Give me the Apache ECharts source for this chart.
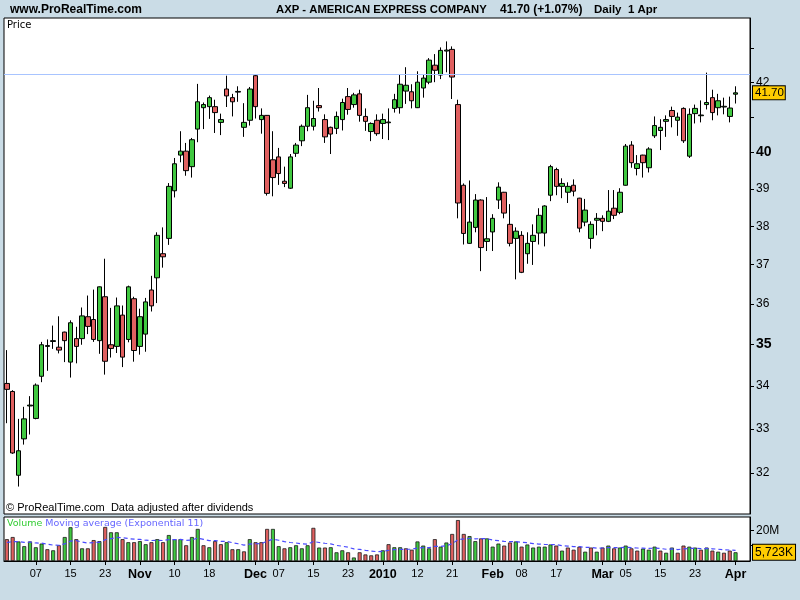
<!DOCTYPE html>
<html><head><meta charset="utf-8">
<script src="https://cdn.jsdelivr.net/npm/echarts@6/dist/echarts.min.js"></script>
<style>html,body{margin:0;padding:0;background:#cadce6;}#c{width:800px;height:600px;}</style>
</head><body><div id="c"></div>
<script>
const dates = ['2009-09-30','2009-10-01','2009-10-02','2009-10-05','2009-10-06','2009-10-07','2009-10-08','2009-10-09','2009-10-12','2009-10-13','2009-10-14','2009-10-15','2009-10-16','2009-10-19','2009-10-20','2009-10-21','2009-10-22','2009-10-23','2009-10-26','2009-10-27','2009-10-28','2009-10-29','2009-10-30','2009-11-02','2009-11-03','2009-11-04','2009-11-05','2009-11-06','2009-11-09','2009-11-10','2009-11-11','2009-11-12','2009-11-13','2009-11-16','2009-11-17','2009-11-18','2009-11-19','2009-11-20','2009-11-23','2009-11-24','2009-11-25','2009-11-27','2009-11-30','2009-12-01','2009-12-02','2009-12-03','2009-12-04','2009-12-07','2009-12-08','2009-12-09','2009-12-10','2009-12-11','2009-12-14','2009-12-15','2009-12-16','2009-12-17','2009-12-18','2009-12-21','2009-12-22','2009-12-23','2009-12-24','2009-12-28','2009-12-29','2009-12-30','2009-12-31','2010-01-04','2010-01-05','2010-01-06','2010-01-07','2010-01-08','2010-01-11','2010-01-12','2010-01-13','2010-01-14','2010-01-15','2010-01-19','2010-01-20','2010-01-21','2010-01-22','2010-01-25','2010-01-26','2010-01-27','2010-01-28','2010-01-29','2010-02-01','2010-02-02','2010-02-03','2010-02-04','2010-02-05','2010-02-08','2010-02-09','2010-02-10','2010-02-11','2010-02-12','2010-02-16','2010-02-17','2010-02-18','2010-02-19','2010-02-22','2010-02-23','2010-02-24','2010-02-25','2010-02-26','2010-03-01','2010-03-02','2010-03-03','2010-03-04','2010-03-05','2010-03-08','2010-03-09','2010-03-10','2010-03-11','2010-03-12','2010-03-15','2010-03-16','2010-03-17','2010-03-18','2010-03-19','2010-03-22','2010-03-23','2010-03-24','2010-03-25','2010-03-26','2010-03-29','2010-03-30','2010-03-31','2010-04-01'];

const opens = [34.06,33.87,31.95,32.77,33.53,33.24,34.23,34.95,35.07,34.93,
35.30,34.57,35.14,35.14,35.68,35.61,35.09,36.18,34.99,34.95,
35.72,35.12,36.13,34.95,35.25,36.35,36.66,37.28,37.68,38.95,
39.93,40.04,39.61,40.66,41.27,41.30,41.30,40.85,41.81,41.56,
41.72,40.71,40.91,42.20,40.93,41.05,39.80,39.88,39.21,39.02,
39.98,40.33,40.74,40.74,41.33,40.93,40.71,40.68,40.93,41.59,
41.36,41.67,41.02,40.59,40.91,40.82,40.84,41.25,41.27,41.75,
41.73,41.27,41.84,42.01,42.51,42.22,42.93,42.98,41.36,39.10,
37.55,37.97,38.70,37.60,37.85,38.70,38.91,38.05,37.68,37.76,
37.28,37.60,37.82,37.82,38.83,39.53,39.07,38.91,39.10,38.75,
38.11,37.68,38.16,38.21,38.13,38.48,38.37,39.10,40.21,39.56,
39.93,39.58,40.47,40.62,40.88,41.19,40.91,41.25,39.90,41.10,
41.04,41.36,41.56,41.27,41.29,41.02,41.66];
const highs = [34.86,33.90,33.23,33.51,33.76,34.06,35.06,35.12,35.46,35.69,
35.31,35.59,35.43,35.91,36.21,36.36,36.44,37.15,35.90,36.16,
35.96,36.46,36.18,35.88,36.15,36.71,37.84,37.97,39.16,39.85,
40.60,40.27,40.41,41.96,41.42,41.62,41.50,41.10,42.20,41.67,
41.89,41.40,41.87,42.22,41.25,41.06,40.60,40.13,39.61,39.96,
40.27,40.79,41.64,41.47,41.84,41.08,40.73,41.16,41.53,41.84,
41.70,41.79,41.25,40.85,41.08,41.10,41.25,41.67,42.25,42.45,
41.95,42.33,42.22,42.72,42.84,43.04,43.22,43.07,41.50,39.15,
39.23,38.86,38.72,38.78,38.32,39.18,38.92,38.59,37.97,37.87,
37.84,38.05,38.48,38.56,39.66,39.58,39.29,39.18,39.26,38.76,
38.73,38.13,38.35,38.29,38.97,38.97,39.02,40.24,40.32,39.93,
39.94,40.15,41.02,40.94,41.05,41.30,41.13,41.28,41.25,41.36,
41.48,42.29,41.79,41.67,41.56,41.59,41.89];
const lows = [33.13,32.43,31.70,32.64,32.87,33.22,34.09,34.36,34.89,34.78,
34.57,34.20,34.54,34.99,35.25,35.06,34.77,34.27,34.68,34.79,
34.45,35.05,34.58,34.75,34.82,35.81,36.02,36.92,37.51,38.77,
39.73,39.36,39.31,40.29,40.66,40.95,40.55,40.49,41.29,41.02,
41.44,40.44,40.76,40.96,40.53,38.82,38.80,39.11,39.05,39.00,
39.88,40.18,40.60,40.62,41.16,40.27,39.96,40.52,40.62,41.07,
41.27,40.87,40.61,40.32,40.47,40.38,40.35,41.13,41.10,41.38,
41.25,41.26,41.56,41.95,42.01,42.10,42.30,41.52,38.21,37.52,
37.54,37.84,36.83,37.35,37.35,38.46,38.21,37.47,36.62,36.78,
37.02,36.99,37.52,37.47,38.67,38.83,38.75,38.62,38.80,37.84,
38.00,37.41,37.76,37.87,38.11,38.19,38.32,39.09,39.58,39.37,
39.31,39.45,40.41,40.07,40.44,40.71,40.47,40.27,39.85,40.82,
40.85,41.22,40.91,41.05,41.08,40.85,41.39];
const closes = [33.92,32.45,32.50,33.23,33.55,34.02,34.99,34.97,35.09,34.86,
35.09,35.53,34.95,35.70,35.44,35.12,36.43,34.59,34.90,35.95,
34.69,36.43,34.85,35.68,36.05,35.95,37.76,37.20,39.07,39.69,
40.04,39.50,40.36,41.44,41.36,41.56,41.13,40.93,41.61,41.44,
41.74,40.85,41.81,41.30,41.05,38.88,39.31,39.42,39.15,39.88,
40.21,40.74,41.27,40.96,41.27,40.44,40.52,41.02,41.42,41.22,
41.64,41.05,40.88,40.82,40.53,40.93,40.86,41.50,41.95,41.92,
41.47,42.01,42.13,42.66,42.36,42.95,42.96,42.16,38.62,37.81,
38.11,38.70,37.44,37.67,38.21,39.05,38.35,37.55,37.87,36.80,
37.55,37.76,38.29,38.54,39.61,39.07,39.15,39.07,38.94,37.95,
38.43,38.05,38.21,38.13,38.40,38.29,38.91,40.18,39.72,39.69,
39.72,40.10,40.76,40.71,40.93,41.02,41.00,40.33,41.08,41.25,
41.06,41.42,41.13,41.47,41.31,41.26,41.70];
// volume in millions of shares
const volumes = [14.3,15.7,12.8,9.7,12.8,9.0,11.4,7.7,7.0,10.3,
15.7,22.1,14.3,8.3,8.3,13.7,13.0,22.3,18.8,18.8,
14.3,12.3,12.3,13.0,11.0,12.3,14.3,12.3,17.0,14.3,
14.3,10.3,15.7,21.0,10.3,9.0,13.0,11.0,12.3,7.7,
7.7,6.3,14.3,12.3,12.3,21.0,21.0,9.7,8.3,9.0,
10.3,8.3,10.3,21.7,8.8,8.8,9.0,5.7,7.0,5.7,
2.3,5.7,4.3,3.7,4.3,7.0,11.0,9.0,9.0,8.3,
7.4,12.8,10.1,8.3,14.3,9.4,12.1,17.7,26.8,17.7,
16.3,13.0,14.8,14.8,9.4,11.4,10.1,12.1,12.8,9.4,
10.8,8.8,9.4,9.4,10.8,10.1,6.8,8.8,7.4,9.4,
6.1,8.8,6.1,8.8,10.1,8.3,8.8,10.1,8.3,6.8,
8.1,7.4,9.4,6.8,5.4,8.8,5.4,10.1,9.4,8.8,
7.4,8.8,6.8,6.1,5.4,6.8,5.723];
// volume moving average (exponential 11), millions
const volumeAverage = [12.1,12.7,12.7,12.2,12.3,11.8,11.7,11.0,10.4,10.3,
11.2,13.0,13.3,12.4,11.7,12.1,12.2,13.9,14.7,15.4,
15.2,14.7,14.3,14.1,13.6,13.4,13.6,13.4,14.0,14.0,
14.1,13.5,13.8,15.0,14.2,13.3,13.3,12.9,12.8,12.0,
11.3,10.4,11.1,11.3,11.4,13.0,14.3,13.6,12.7,12.1,
11.8,11.2,11.0,12.8,12.1,11.6,11.2,10.2,9.7,9.0,
7.9,7.6,7.0,6.5,6.1,6.3,7.0,7.4,7.6,7.7,
7.7,8.5,8.8,8.7,9.6,9.6,10.0,11.3,13.9,14.5,
14.8,14.5,14.6,14.6,13.7,13.3,12.8,12.7,12.7,12.2,
12.0,11.4,11.1,10.8,10.8,10.7,10.0,9.8,9.4,9.4,
8.9,8.9,8.4,8.5,8.8,8.7,8.7,8.9,8.8,8.5,
8.4,8.2,8.4,8.2,7.7,7.9,7.5,7.9,8.2,8.3,
8.1,8.2,8.0,7.7,7.3,7.2,7.0];

const priceTicks = [32,33,34,35,36,37,38,39,40,41,42,43];
const priceLabels = [32,33,34,35,36,37,38,39,40,42];
const boldPriceLabels = [35,40];
const volumeTicks = [10,20];
const volumeLabels = [20];
const tickDates = ['2009-10-07','2009-10-15','2009-10-23','2009-11-02','2009-11-10','2009-11-18','2009-12-01','2009-12-07','2009-12-15','2009-12-23','2010-01-04','2010-01-12','2010-01-21','2010-02-01','2010-02-08','2010-02-17','2010-03-01','2010-03-05','2010-03-15','2010-03-23','2010-04-01'];
const tickTexts = ['07','15','23','Nov','10','18','Dec','07','15','23','2010','12','21','Feb','08','17','Mar','05','15','23','Apr'];
const boldTickTexts = ['Nov','Dec','2010','Feb','Mar','Apr'];
const levelLine = 42.23;
const lastPrice = 41.70;
const lastVolume = 5.723;
const headerSite = 'www.ProRealTime.com';
const headerTitle = 'AXP - AMERICAN EXPRESS COMPANY';
const headerQuote = '41.70 (+1.07%)';
const headerPeriod = 'Daily  1 Apr';

const UP = '#40c840', DOWN = '#e06060';
const FONT = 'Liberation Sans';
const chart = echarts.init(document.getElementById('c'), null, {renderer: 'canvas'});

const tickSet = new Set(tickDates);
const xCommon = {
  type: 'category', data: dates, boundaryGap: true, max: dates.length + 1,
  splitLine: {show: false}
};
const yellowLabel = (text, size, pad) => ({show: true, position: 'end', distance: 3, formatter: text, color: '#000',
  fontSize: size, fontFamily: FONT, backgroundColor: '#ffcc00', borderColor: '#000', borderWidth: 1, padding: pad});
const hiddenLine = {color: 'rgba(0,0,0,0)', width: 1, type: 'solid'};

chart.setOption({
  animation: false,
  backgroundColor: '#cadce6',
  textStyle: {fontFamily: FONT},
  grid: [
    {left: 4, right: 50, top: 18, height: 496, show: true, backgroundColor: '#fff', borderColor: '#000', borderWidth: 1},
    {left: 4, right: 50, top: 517, height: 44, show: true, backgroundColor: '#fff', borderColor: '#000', borderWidth: 1}
  ],
  xAxis: [
    Object.assign({}, xCommon, {gridIndex: 0, axisLine: {show: false}, axisTick: {show: false}, axisLabel: {show: false}}),
    Object.assign({}, xCommon, {
      gridIndex: 1,
      axisLine: {show: true, lineStyle: {color: '#000'}},
      axisTick: {show: true, alignWithLabel: true, length: 4, lineStyle: {color: '#000'},
        interval: (i, v) => tickSet.has(v)},
      axisLabel: {show: true, margin: 7, color: '#000', fontSize: 11, fontFamily: FONT,
        interval: (i, v) => tickSet.has(v),
        formatter: v => { const t = tickTexts[tickDates.indexOf(v)]; if (t === undefined) return ''; return boldTickTexts.includes(t) ? '{b|' + t + '}' : t; },
        rich: {b: {fontSize: 12.5, fontWeight: 'bold', fontFamily: FONT, color: '#000'}}}
    })
  ],
  yAxis: [
    {type: 'log', logBase: 10, gridIndex: 0, position: 'right', min: 31.10, max: 43.93,
      axisLine: {show: true, lineStyle: {color: '#000'}},
      axisTick: {show: true, length: 4, customValues: priceTicks, lineStyle: {color: '#000'}},
      axisLabel: {show: true, customValues: priceLabels, margin: 6, color: '#000', fontSize: 12, fontFamily: FONT,
        formatter: v => { const n = Math.round(v); return boldPriceLabels.includes(n) ? '{b|' + n + '}' : '' + n; },
        rich: {b: {fontSize: 14, fontWeight: 'bold', fontFamily: FONT, color: '#000'}}},
      splitLine: {show: false}},
    {type: 'value', gridIndex: 1, position: 'right', min: 0, max: 28.8,
      axisLine: {show: true, lineStyle: {color: '#000'}},
      axisTick: {show: true, length: 4, customValues: volumeTicks, lineStyle: {color: '#000'}},
      axisLabel: {show: true, customValues: volumeLabels, margin: 6, color: '#000', fontSize: 12, fontFamily: FONT,
        formatter: v => Math.round(v) + 'M'},
      splitLine: {show: false}}
  ],
  series: [
    {type: 'candlestick', xAxisIndex: 0, yAxisIndex: 0, barWidth: 5,
      data: dates.map((d, i) => [opens[i], closes[i], lows[i], highs[i]]),
      itemStyle: {color: UP, color0: DOWN, borderColor: '#000', borderColor0: '#000', borderColorDoji: '#000', borderWidth: 1},
      markLine: {silent: true, symbol: ['none', 'none'], animation: false,
        data: [
          {yAxis: levelLine, lineStyle: {color: '#a8c4ff', width: 1, type: 'solid'}, label: {show: false}},
          {yAxis: lastPrice, lineStyle: hiddenLine, label: yellowLabel(lastPrice.toFixed(2), 11.5, [1, 1, 0, 2])}
        ]}},
    {type: 'bar', xAxisIndex: 1, yAxisIndex: 1, barWidth: 4, data: volumes,
      itemStyle: {borderColor: '#1a1a1a', borderWidth: 0.8,
        color: p => { const i = p.dataIndex; const prev = i > 0 ? closes[i - 1] : opens[0]; return closes[i] >= prev ? UP : DOWN; }},
      markLine: {silent: true, symbol: ['none', 'none'], animation: false,
        data: [{yAxis: lastVolume, lineStyle: hiddenLine,
          label: yellowLabel(Math.round(lastVolume * 1000).toLocaleString('en-US') + 'K', 12, [2, 2, 1, 2])}]}},
    {type: 'line', xAxisIndex: 1, yAxisIndex: 1, data: volumeAverage, showSymbol: false, symbol: 'none',
      lineStyle: {color: '#4a4aff', width: 1.2, type: [4, 3]}, z: 5}
  ],
  graphic: [
    {type: 'text', x: 10, y: 10, style: {text: headerSite, fontSize: 12, fontWeight: 'bold', fontFamily: FONT, fill: '#000', verticalAlign: 'middle'}},
    {type: 'text', x: 276, y: 10, style: {text: headerTitle, fontSize: 11.3, fontWeight: 'bold', fontFamily: FONT, fill: '#000', verticalAlign: 'middle'}},
    {type: 'text', x: 500, y: 10, style: {text: headerQuote, fontSize: 12, fontWeight: 'bold', fontFamily: FONT, fill: '#000', verticalAlign: 'middle'}},
    {type: 'text', x: 594, y: 10, style: {text: headerPeriod, fontSize: 11.5, fontWeight: 'bold', fontFamily: FONT, fill: '#000', verticalAlign: 'middle'}},
    {type: 'text', x: 7, y: 25, z: 100, style: {text: 'Price', fontSize: 10, fontFamily: 'DejaVu Sans', fill: '#000', verticalAlign: 'middle'}},
    {type: 'text', x: 6, y: 508, z: 100, style: {text: '\u00A9 ProRealTime.com  Data adjusted after dividends', fontSize: 11, fontFamily: FONT, fill: '#000', verticalAlign: 'middle'}},
    {type: 'text', x: 7, y: 523.5, z: 100, style: {text: '{g|Volume} {b|Moving average (Exponential 11)}', fontSize: 9.5, fontFamily: 'DejaVu Sans', verticalAlign: 'middle',
      rich: {g: {fill: '#33cc33', fontSize: 9.5, fontFamily: 'DejaVu Sans'}, b: {fill: '#6666ff', fontSize: 9.5, fontFamily: 'DejaVu Sans'}}}}
  ]
});
</script></body></html>
